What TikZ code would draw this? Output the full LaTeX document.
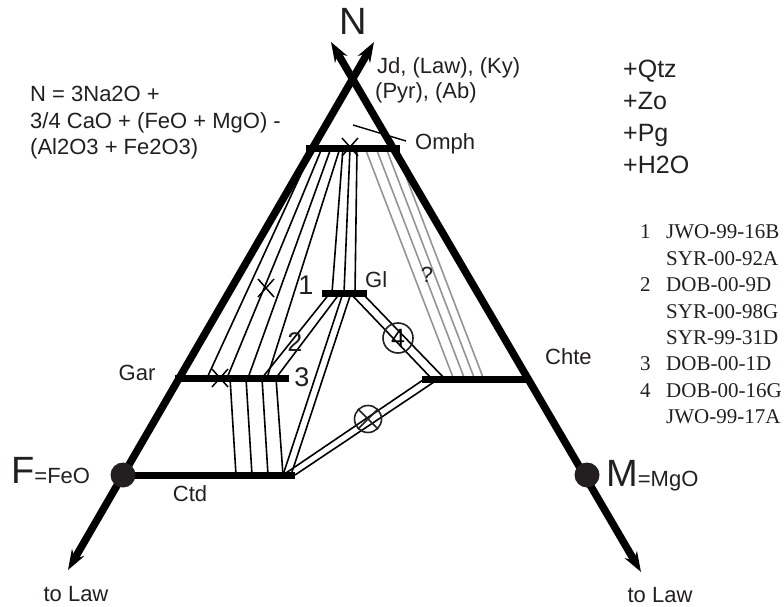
\documentclass[tikz,border=0pt]{standalone}
\usepackage{fontspec}
\setmainfont{Liberation Sans}
\newfontfamily\timesf{Liberation Serif}
\usetikzlibrary{arrows.meta}
\definecolor{ink}{HTML}{231F20}
\begin{document}
\begin{tikzpicture}[x=1pt,y=-1pt,
  lbl/.style={text=ink,font=\fontsize{22}{26}\selectfont,inner sep=0pt},
  plus/.style={text=ink,font=\fontsize{25}{30}\selectfont,inner sep=0pt,anchor=base west},
  num/.style={text=ink,font=\fontsize{27}{30}\selectfont,inner sep=0pt},
  big/.style={text=ink,font=\fontsize{38}{40}\selectfont,inner sep=0pt},
  leg/.style={text=ink,font=\timesf\fontsize{21}{24}\selectfont,inner sep=0pt,anchor=west},
  side/.style={line width=7.5pt,{Stealth[length=20pt,width=14pt]}-{Stealth[length=20pt,width=14pt]}},
  bar/.style={line width=7pt},
  tie/.style={line width=1.6pt},
  gtie/.style={line width=1.6pt,draw=black!42},
  xmk/.style={line width=1.5pt},
  ring/.style={circle,draw=ink,line width=1.6pt,minimum size=30pt,inner sep=0pt},
  dot/.style={circle,fill=ink,minimum size=25pt,inner sep=0pt}
  ]
\useasboundingbox (0,0) rectangle (784,607);
% --- key points
\coordinate (F) at (123,475);
\coordinate (M) at (587,475);
\coordinate (LLtip) at (68,570);
\coordinate (LUtip) at (374,42);
\coordinate (RLtip) at (641,572);
\coordinate (RUtip) at (331,42);
% --- thin tie lines (drawn first)
% Gar - Omph
\foreach \a/\b in {313/207, 322/227, 331/248, 340/267}
  \draw[tie] (\a,148) -- (\b,378);
% Gl - Omph
\foreach \a/\b in {343/332, 350/344, 357/355}
  \draw[tie] (\a,148) -- (\b,293);
% Omph - Chte (grey)
\foreach \a/\b in {365/454, 376/465, 386/475, 395/484}
  \draw[gtie] (\a,148) -- (\b,380);
% Gar - Ctd
\foreach \a/\b in {230/236, 246/252, 262/268, 276/283}
  \draw[tie] (\a,378) -- (\b,475);
% pairs
\draw[tie] (262,378) -- (330,293);
\draw[tie] (276,378) -- (340,293);
\draw[tie] (283,475) -- (343,293);
\draw[tie] (291,475) -- (351,293);
\draw[tie] (350,293) -- (433,380);
\draw[tie] (362,293) -- (446,380);
\draw[tie] (283,475) -- (423,380);
\draw[tie] (295,475) -- (437,380);
% --- thick sides
\draw[side] (LLtip) -- (LUtip);
\draw[side] (RLtip) -- (RUtip);
% --- bars
\draw[bar] (306,148) -- (400,148);
\draw[bar] (322,293) -- (367,293);
\draw[bar] (175,378) -- (289,378);
\draw[bar] (422,379) -- (530,379);
\draw[bar] (F) -- (295,475);
% --- corner dots
\node[dot] (Fdot) at (F) {};
\node[dot] (Mdot) at (M) {};
% --- crosses
\foreach \x/\y in {350/147, 220/378, 266/288}
  \draw[xmk] (\x-8,\y-9) -- (\x+8,\y+9) (\x-8,\y+9) -- (\x+8,\y-9);
% --- rings
\node[ring] (r4) at (398,338) {\fontsize{25}{25}\selectfont 4};
\node[ring,minimum size=27pt] (rx) at (368,419) {};
\draw[xmk,draw=ink] (rx.north west) -- (rx.south east) (rx.south west) -- (rx.north east);
% --- Omph pointer
\coordinate (op) at (353,125);
\node[lbl,anchor=west] (omph) at (415,144) {Omph};
\coordinate (opend) at (406,141);
\draw[line width=1.4pt] (op) -- (opend);
% --- labels
\node[big] (Nlab) at (353,21) {N};
\node[lbl,anchor=west] (jd) at (377,68) {Jd, (Law), (Ky)};
\node[lbl,anchor=west] (pyr) at (375,93) {(Pyr), (Ab)};
\node[lbl,anchor=north west,align=left,font=\fontsize{22}{26.5}\selectfont] (form) at (30,86)
  {N = 3Na2O +\\3/4 CaO + (FeO + MgO) -\\(Al2O3 + Fe2O3)};
\node[plus] (pq) at (623,78) {+Qtz};
\node[plus] (pz) at (623,110) {+Zo};
\node[plus] (pp) at (623,142) {+Pg};
\node[plus] (ph) at (623,173) {+H2O};
\node[num] (n1) at (306,285) {1};
\node[num] (n2) at (295,342) {2};
\node[num] (n3) at (302,377) {3};
\node[lbl,anchor=west] (gl) at (365,280) {Gl};
\node[lbl] (q) at (427,275) {?};
\node[lbl] (gar) at (137,373) {Gar};
\node[lbl,anchor=west] (chte) at (545,357) {Chte};
\node[lbl] (ctd) at (190,494) {Ctd};
\node[big,anchor=base west] (Flab) at (11,483) {F\fontsize{22}{24}\selectfont=FeO};
\node[big,anchor=base west] (Mlab) at (606,486) {M\fontsize{22}{24}\selectfont=MgO};
\node[lbl] (lawL) at (76,594) {to Law};
\node[lbl] (lawR) at (660,595) {to Law};
% --- legend
\foreach \t [count=\i from 0] in {JWO-99-16B,SYR-00-92A,DOB-00-9D,SYR-00-98G,SYR-99-31D,DOB-00-1D,DOB-00-16G,JWO-99-17A}
  \node[leg] (leg\i) at (666,232+26.4*\i) {\t};
\foreach \n/\i in {1/0,2/2,3/5,4/6}
  \node[leg] (legn\n) at (640,232+26.4*\i) {\n};
\end{tikzpicture}
\end{document}
